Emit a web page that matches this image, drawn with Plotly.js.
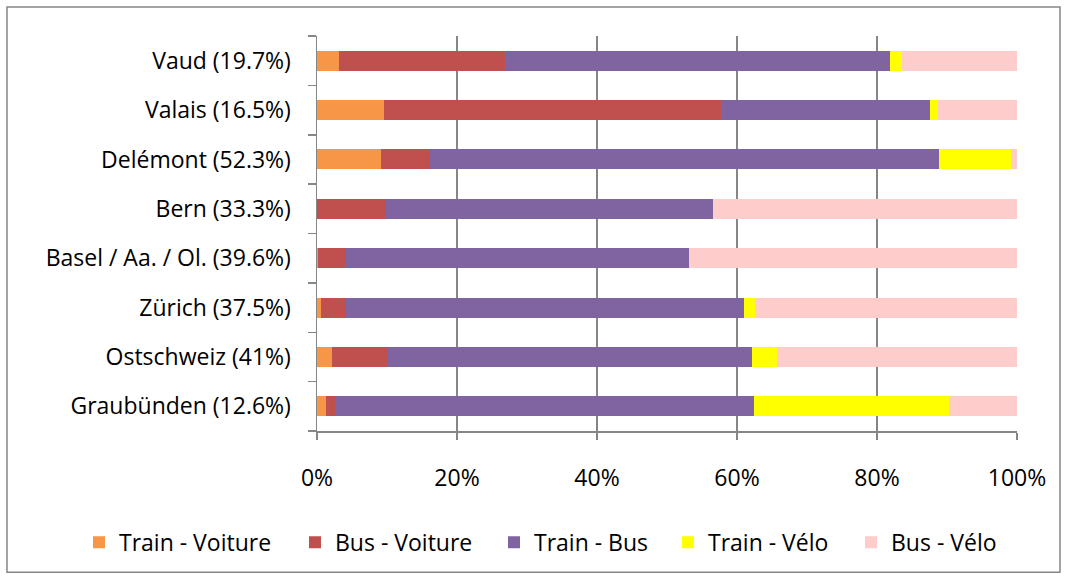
<!DOCTYPE html>
<html><head><meta charset="utf-8">
<script src="https://cdn.plot.ly/plotly-3.0.1.min.js"></script>
<style>html,body{margin:0;padding:0;background:#fff}</style>
</head><body><div id="chart" style="width:1067px;height:579px"></div>
<script>
const categories = ['Graubünden (12.6%)','Ostschweiz (41%)','Zürich (37.5%)','Basel / Aa. / Ol. (39.6%)','Bern (33.3%)','Delémont (52.3%)','Valais (16.5%)','Vaud (19.7%)'];
const seriesNames = ['Train - Voiture','Bus - Voiture','Train - Bus','Train - Vélo','Bus - Vélo'];
const trainVoiture = [1.3, 2.2, 0.5, 0.2, 0, 9.1, 9.6, 3.2];
const busVoiture   = [1.3, 8.0, 3.6, 4.0, 9.8, 7.0, 48.1, 23.6];
const trainBus     = [59.8, 52.0, 56.9, 49.0, 46.8, 72.7, 29.9, 55.1];
const trainVelo    = [27.9, 3.5, 1.5, 0, 0, 10.3, 1.1, 1.6];
const busVelo      = [9.7, 34.3, 37.5, 46.8, 43.4, 0.9, 11.3, 16.5];
const xTickVals = [0, 20, 40, 60, 80, 100];

const seriesValues = [trainVoiture, busVoiture, trainBus, trainVelo, busVelo];
const colors = ['#F79646','#C0504D','#8064A2','#FFFF00','#FFCCCC'];
const legendIds = ['legend','legend2','legend3','legend4','legend5'];
const legendPx = [93, 309, 508, 682, 865];

const PL = 317, PW = 700, PT = 36, PH = 395.5;
const px2x = p => (p - PL) / PW;
const py2y = p => (PT + PH - p) / PH;

const FONT = '"Open Sans", sans-serif';
const traces = seriesNames.map((name, i) => ({
  type: 'bar', orientation: 'h', name: name,
  y: categories, x: seriesValues[i],
  marker: {color: colors[i], line: {width: 0}},
  legend: legendIds[i], hoverinfo: 'skip'
}));

const layout = {
  width: 1067, height: 579,
  margin: {l: PL, r: 1067 - PL - PW, t: PT, b: 579 - PT - PH, pad: 0},
  paper_bgcolor: '#fff', plot_bgcolor: '#fff',
  barmode: 'stack', bargap: 0.595,
  font: {family: FONT, size: 23, color: '#000'},
  xaxis: {
    range: [0, 100], tickvals: xTickVals, ticktext: xTickVals.map(v => v + '%'),
    showgrid: true, gridcolor: '#868686', gridwidth: 1.5,
    showline: true, linecolor: '#868686', linewidth: 1.5,
    ticks: 'outside', ticklen: 7, tickcolor: '#868686', tickwidth: 1.5,
    zeroline: false, ticklabelstandoff: 19,
    tickfont: {family: FONT, size: 23, color: '#000'}
  },
  yaxis: {
    type: 'category', categoryorder: 'array', categoryarray: categories,
    showgrid: false, showline: true, linecolor: '#868686', linewidth: 1.5,
    ticks: 'outside', tickson: 'boundaries', ticklen: 8, tickcolor: '#868686', tickwidth: 1.5,
    ticklabelstandoff: 20,
    tickfont: {family: FONT, size: 23, color: '#000'}
  },
  shapes: [{
    type: 'rect', xref: 'paper', yref: 'paper',
    x0: px2x(7), x1: px2x(1060), y0: py2y(573), y1: py2y(7),
    line: {color: '#868686', width: 1.5}
  }],
  showlegend: true
};
legendIds.forEach((id, i) => {
  layout[id] = {
    x: px2x(legendPx[i] - 14), xanchor: 'left',
    y: py2y(543), yanchor: 'middle',
    orientation: 'h', bgcolor: 'rgba(0,0,0,0)',
    font: {family: FONT, size: 23, color: '#000'}
  };
});

Plotly.newPlot('chart', traces, layout, {displayModeBar: false, staticPlot: true});
</script>
</body></html>
